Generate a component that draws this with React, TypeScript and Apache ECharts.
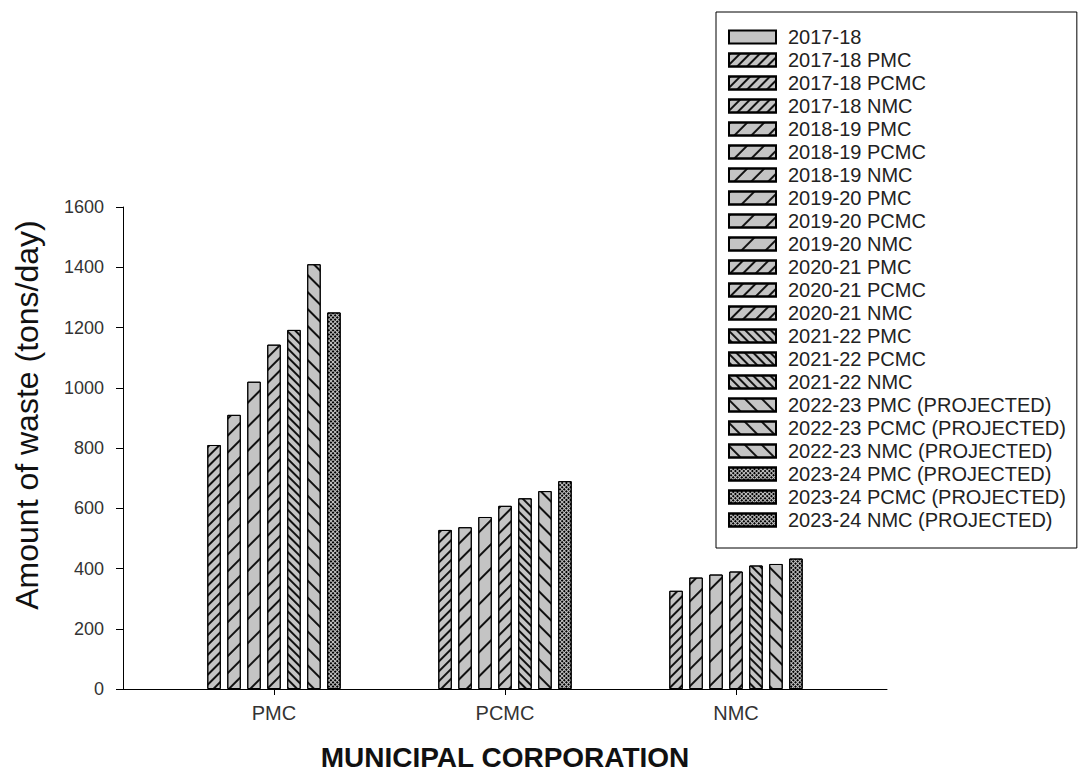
import React, { useEffect, useRef } from "react";
import * as echarts from "echarts";

const categories = ["PMC", "PCMC", "NMC"];
const years = ["2017-18", "2018-19", "2019-20", "2020-21", "2021-22", "2022-23", "2023-24"];
const projectedYears = ["2022-23", "2023-24"];
const pmcValues = [810, 910, 1020, 1143, 1192, 1410, 1250];
const pcmcValues = [528, 537, 571, 608, 633, 657, 690];
const nmcValues = [326, 370, 380, 390, 410, 415, 433];
const cityValues = [pmcValues, pcmcValues, nmcValues];
const yTicks = { min: 0, max: 1600, interval: 200 };

const FONT = "'Liberation Sans', Arial, Helvetica, sans-serif";
const FILL = "#c4c4c4";

const stripe = (gap: number, dir: number) => ({
  symbol: "rect",
  symbolSize: 1,
  dashArrayX: [1, 0],
  dashArrayY: [1.1, gap],
  rotation: dir * Math.PI / 4,
  color: "#111",
});

const yearDecals: any[] = [
  stripe(4.2, -1),
  stripe(9.5, -1),
  stripe(15, -1),
  stripe(7, -1),
  stripe(3.6, 1),
  stripe(10, 1),
  {
    symbol: "rect",
    symbolSize: 1,
    dashArrayX: [1.4, 1],
    dashArrayY: [1.4, 1],
    rotation: Math.PI / 4,
    color: "#000",
  },
];

export default function App() {
  const ref = useRef<HTMLDivElement>(null);
  useEffect(() => {
    if (!ref.current) return;
    const chart = echarts.init(ref.current, null, { renderer: "svg" });

    const series: any[] = [
      {
        name: "2017-18",
        type: "bar",
        stack: "2017-18",
        xAxisIndex: 0,
        yAxisIndex: 0,
        barWidth: 13.5,
        barGap: "48%",
        data: categories.map(() => "-"),
        itemStyle: { color: FILL, borderColor: "#000", borderWidth: 1 },
      },
    ];
    const legendNames: string[] = ["2017-18"];
    years.forEach((year, i) => {
      categories.forEach((city, j) => {
        const name = `${year} ${city}` + (projectedYears.includes(year) ? " (PROJECTED)" : "");
        legendNames.push(name);
        series.push({
          name,
          type: "bar",
          stack: year,
          xAxisIndex: 0,
          yAxisIndex: 0,
          barWidth: 13.5,
          barGap: "48%",
          data: categories.map((_, k) => (k === j ? cityValues[j][i] : "-")),
          itemStyle: {
            color: FILL,
            borderColor: "#000",
            borderWidth: 1,
            decal: yearDecals[i],
          },
        });
      });
    });

    chart.setOption({
      animation: false,
      backgroundColor: "#fff",
      textStyle: { fontFamily: FONT },
      grid: [
        { left: 158.5, width: 693, top: 207, height: 482, outerBoundsMode: "none", containLabel: false },
        { left: 123, width: 764, top: 207, height: 482, outerBoundsMode: "none", containLabel: false },
      ],
      xAxis: [
        {
          type: "category",
          gridIndex: 0,
          data: categories,
          axisLine: { show: true, lineStyle: { color: "#000", width: 1 } },
          axisTick: { show: true, alignWithLabel: true, length: 6, lineStyle: { color: "#000" } },
          axisLabel: { fontSize: 20, color: "#333", margin: 14, fontFamily: FONT },
          name: "MUNICIPAL CORPORATION",
          nameLocation: "middle",
          nameGap: 54,
          nameTextStyle: { fontSize: 28, fontWeight: "bold", color: "#111", fontFamily: FONT },
        },
        {
          type: "value",
          gridIndex: 1,
          min: 0,
          max: 1,
          axisLine: { show: true, onZero: false, lineStyle: { color: "#000", width: 1 } },
          axisTick: { show: false },
          axisLabel: { show: false },
          splitLine: { show: false },
        },
      ],
      yAxis: [
        {
          type: "value",
          gridIndex: 0,
          min: yTicks.min,
          max: yTicks.max,
          interval: yTicks.interval,
          show: false,
        },
        {
          type: "value",
          gridIndex: 1,
          min: yTicks.min,
          max: yTicks.max,
          interval: yTicks.interval,
          axisLine: { show: true, lineStyle: { color: "#000", width: 1 } },
          axisTick: { show: true, length: 7, lineStyle: { color: "#000" } },
          axisLabel: {
            fontSize: 18,
            color: "#333",
            margin: 19,
            fontFamily: FONT,
            formatter: (v: number) => String(v),
          },
          splitLine: { show: false },
          name: "Amount of waste (tons/day)",
          nameLocation: "middle",
          nameGap: 80,
          nameTextStyle: { fontSize: 32, color: "#111", fontFamily: FONT, padding: [0, 0, 0, 66] },
        },
      ],
      legend: {
        data: legendNames,
        orient: "vertical",
        left: 716,
        top: 12,
        padding: [15, 11, 18, 12],
        icon: "rect",
        itemWidth: 47,
        itemHeight: 13,
        itemGap: 3,
        borderColor: "#000",
        borderWidth: 1,
        selectedMode: false,
        textStyle: { fontSize: 20, lineHeight: 20, color: "#222", fontFamily: FONT, padding: [0, 0, 0, 7] },
      },
      series,
    });
    return () => chart.dispose();
  }, []);
  return (
    <div
      ref={ref}
      style={{ position: "fixed", left: 0, top: 0, width: 1080, height: 772 }}
    />
  );
}
